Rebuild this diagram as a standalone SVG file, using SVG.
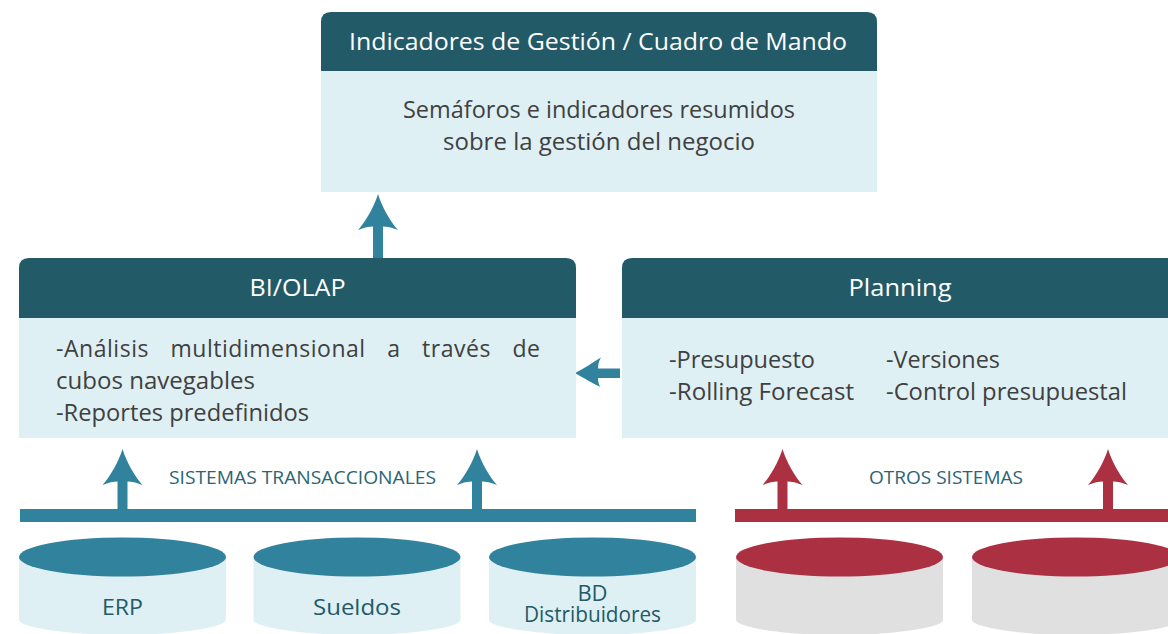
<svg xmlns="http://www.w3.org/2000/svg" width="1168" height="634" viewBox="0 0 1168 634">
<style>
text{font-family:"Open Sans","Noto Sans","Liberation Sans",sans-serif}
.hd{fill:#225a68}.bd{fill:#dff0f5}.blue{fill:#31839d}.red{fill:#ab3142}.grey{fill:#e0e0e0}
.t{fill:#fff;font-size:24px;text-anchor:middle}
.b{fill:#404040;font-size:23px}
.l{fill:#225a68;font-size:22px;text-anchor:middle}
.s{fill:#2b6574;font-size:19px}
</style>
<defs>
<path id="arr" d="M0 0C4 13 12 27 20 36C14 33.500 9 32.500 5 32.500V60H-5V32.500C-9 32.500 -14 33.500 -20 36C-12 27 -4 13 0 0Z"/>
<path id="cyl" d="M0 0H207V63C207 70 160 78 103.500 78C47 78 0 70 0 63Z"/>
</defs>
<g id="connectors">
<use href="#arr" class="blue" x="378" y="194"/>
<rect class="blue" x="373" y="250" width="10" height="8"/>
<path class="blue" d="M575 373C584 368.500 592 363 601 357.500C599 361 598 364 598 368.500H620V378H598C598 382 599 386 601 387C593 384 584 378 575 373Z"/>
<rect class="blue" x="20" y="509" width="676" height="13"/>
<use href="#arr" class="blue" x="122.500" y="449"/>
<use href="#arr" class="blue" x="477" y="449"/>
<rect class="red" x="735" y="509" width="433" height="13"/>
<use href="#arr" class="red" x="782.500" y="449"/>
<use href="#arr" class="red" x="1108" y="449"/>
</g>
<g id="kpi">
<rect class="bd" x="321" y="60" width="556" height="132"/>
<path class="hd" d="M321 71V22Q321 12 331 12H867Q877 12 877 22V71Z"/>
<text class="t" x="598" y="50" textLength="498" lengthAdjust="spacingAndGlyphs">Indicadores de Gestión / Cuadro de Mando</text>
<text class="b" x="403" y="118" textLength="392" lengthAdjust="spacingAndGlyphs">Semáforos e indicadores resumidos</text>
<text class="b" x="443" y="150" textLength="312" lengthAdjust="spacingAndGlyphs">sobre la gestión del negocio</text>
</g>
<g id="biolap">
<rect class="bd" x="19" y="310" width="557" height="128"/>
<path class="hd" d="M19 318V268Q19 258 29 258H566Q576 258 576 268V318Z"/>
<text class="t" x="297.500" y="295.500" textLength="96" lengthAdjust="spacingAndGlyphs">BI/OLAP</text>
<text class="b" x="56" y="357" textLength="484" lengthAdjust="spacing" word-spacing="15">-Análisis multidimensional a través de</text>
<text class="b" x="56" y="389" textLength="199" lengthAdjust="spacingAndGlyphs">cubos navegables</text>
<text class="b" x="56" y="421" textLength="253" lengthAdjust="spacingAndGlyphs">-Reportes predefinidos</text>
</g>
<g id="planning">
<rect class="bd" x="622" y="310" width="546" height="128"/>
<path class="hd" d="M622 318V268Q622 258 632 258H1168V318Z"/>
<text class="t" x="900" y="295.500" textLength="103" lengthAdjust="spacingAndGlyphs">Planning</text>
<text class="b" x="669" y="368" textLength="146" lengthAdjust="spacingAndGlyphs">-Presupuesto</text>
<text class="b" x="669" y="400" textLength="185" lengthAdjust="spacingAndGlyphs">-Rolling Forecast</text>
<text class="b" x="886" y="368" textLength="114" lengthAdjust="spacingAndGlyphs">-Versiones</text>
<text class="b" x="886" y="400" textLength="241" lengthAdjust="spacingAndGlyphs">-Control presupuestal</text>
</g>
<text class="s" x="169" y="483.500" textLength="267" lengthAdjust="spacingAndGlyphs">SISTEMAS TRANSACCIONALES</text>
<text class="s" x="869" y="483.500" textLength="154" lengthAdjust="spacingAndGlyphs">OTROS SISTEMAS</text>
<g id="erp">
<use href="#cyl" class="bd" x="19" y="557"/>
<ellipse class="blue" cx="122.500" cy="557" rx="103.500" ry="19.500"/>
<text class="l" x="122.500" y="614.500" textLength="41" lengthAdjust="spacingAndGlyphs">ERP</text>
</g>
<g id="sueldos">
<use href="#cyl" class="bd" x="253.500" y="557"/>
<ellipse class="blue" cx="357" cy="557" rx="103.500" ry="19.500"/>
<text class="l" x="357" y="614.500" textLength="88" lengthAdjust="spacingAndGlyphs">Sueldos</text>
</g>
<g id="bd-distribuidores">
<use href="#cyl" class="bd" x="489" y="557"/>
<ellipse class="blue" cx="592.500" cy="557" rx="103.500" ry="19.500"/>
<text class="l"><tspan x="592.500" y="601">BD</tspan><tspan x="592.500" y="622" textLength="137" lengthAdjust="spacingAndGlyphs">Distribuidores</tspan></text>
</g>
<g id="otro-1">
<use href="#cyl" class="grey" x="736" y="557"/>
<ellipse class="red" cx="839.500" cy="557" rx="103.500" ry="19.500"/>
</g>
<g id="otro-2">
<use href="#cyl" class="grey" x="972" y="557"/>
<ellipse class="red" cx="1075.500" cy="557" rx="103.500" ry="19.500"/>
</g>
</svg>
